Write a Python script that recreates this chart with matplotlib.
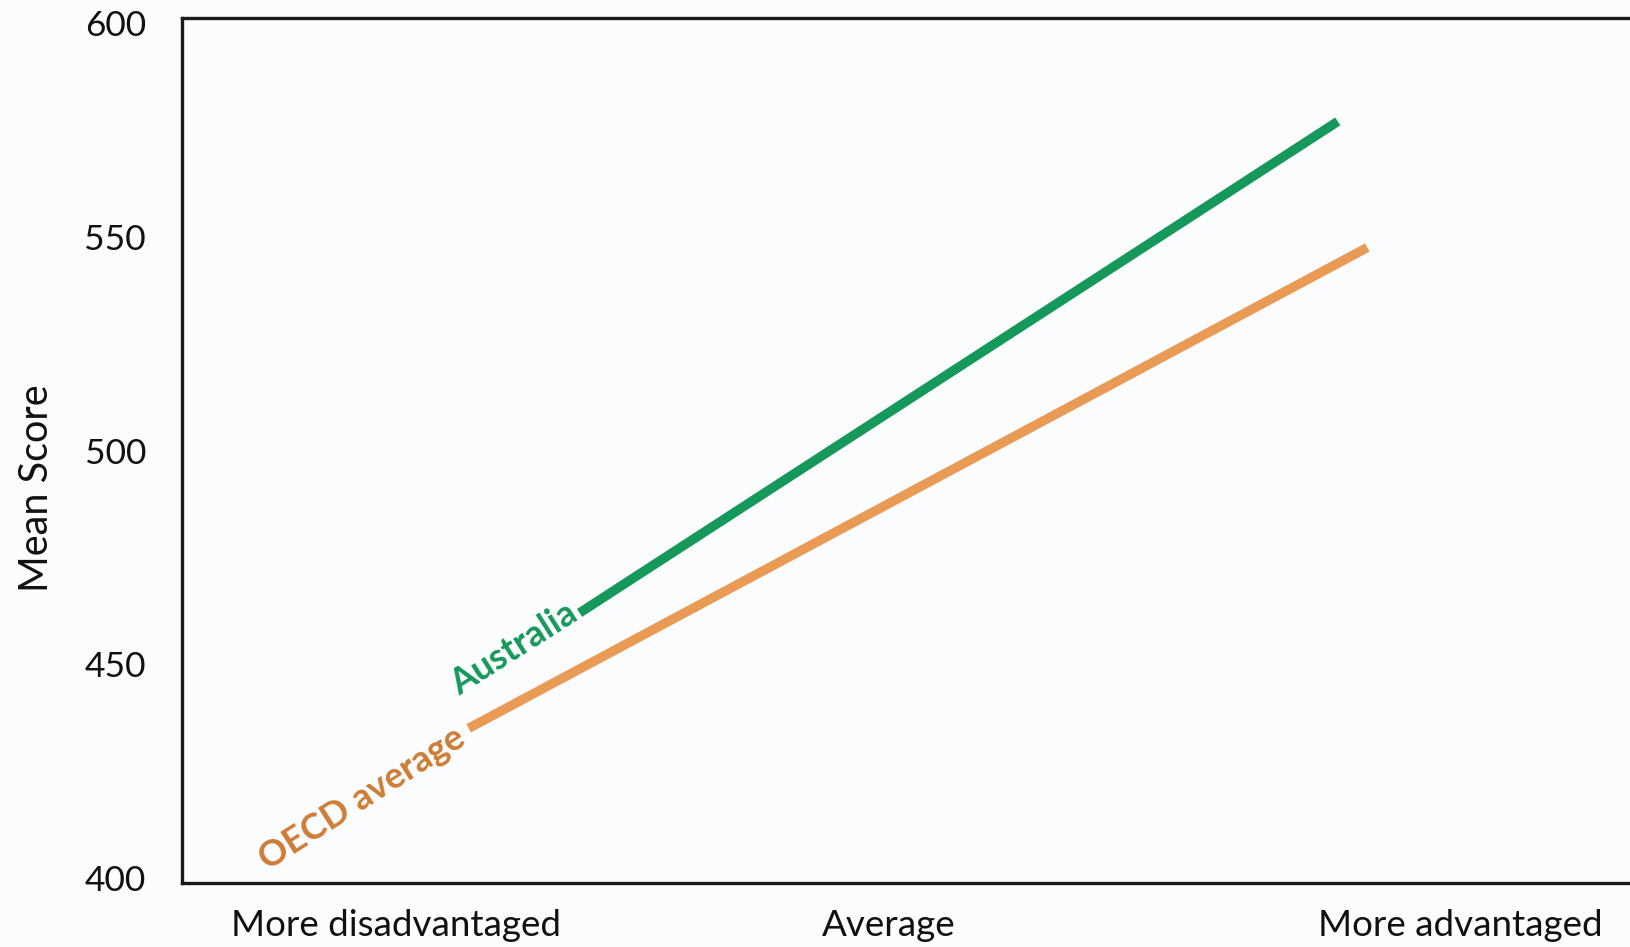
import matplotlib
matplotlib.use("Agg")
import matplotlib.pyplot as plt

# Mean score by socio-economic background
categories = ["More disadvantaged", "Average", "More advantaged"]
series_names = ["Australia", "OECD average"]
australia_x = [26.9, 78.2]
australia_y = [462, 577]
oecd_x = [19.4, 80.2]
oecd_y = [435, 547.5]
y_ticks = [400, 450, 500, 550, 600]

GREEN = "#16985a"
ORANGE = "#e99a55"
ORANGE_TEXT = "#cd7d35"

plt.rcParams["font.family"] = ["Lato", "DejaVu Sans"]

W, H = 1630, 947
fig = plt.figure(figsize=(W / 100, H / 100), dpi=100, facecolor="#fbfcfd")
left, right, top, bottom = 182, 1660, 18, 883
ax = fig.add_axes([left / W, 1 - bottom / H, (right - left) / W, (bottom - top) / H])
ax.set_facecolor("#fbfcfd")

ax.plot(australia_x, australia_y, color=GREEN, lw=6.8, solid_capstyle="butt")
ax.plot(oecd_x, oecd_y, color=ORANGE, lw=6.8, solid_capstyle="butt")

ax.set_xlim(0, 100)
ax.set_ylim(398.8, 601.2)
ax.set_yticks(y_ticks)
ax.set_yticklabels([str(v) for v in y_ticks])
ax.set_xticks([14.5, 47.8, 86.5])
ax.set_xticklabels(categories)
ax.tick_params(axis="both", length=0, colors="#111111")
ax.tick_params(axis="y", pad=26, labelsize=25.5)
ax.tick_params(axis="x", pad=19, labelsize=26.5)
ax.set_ylabel("Mean Score", fontsize=28.5, color="#111111")
ax.yaxis.set_label_coords(-0.086, 0.457)

for side in ["left", "top", "bottom", "right"]:
    ax.spines[side].set_linewidth(2.4)
    ax.spines[side].set_color("#1a1a1a")

# Series labels along the start of each line
ax.annotate(series_names[0], xy=(australia_x[0], australia_y[0]), xytext=(-4, 2),
            textcoords="offset points", ha="right", va="center",
            rotation=32.5, rotation_mode="anchor", fontsize=26,
            fontweight="bold", color=GREEN)
ax.annotate(series_names[1], xy=(oecd_x[0], oecd_y[0]), xytext=(-5, -5),
            textcoords="offset points", ha="right", va="center",
            rotation=32.5, rotation_mode="anchor", fontsize=26,
            fontweight="bold", color=ORANGE_TEXT)

fig.savefig("out.png", dpi=100, facecolor=fig.get_facecolor())
